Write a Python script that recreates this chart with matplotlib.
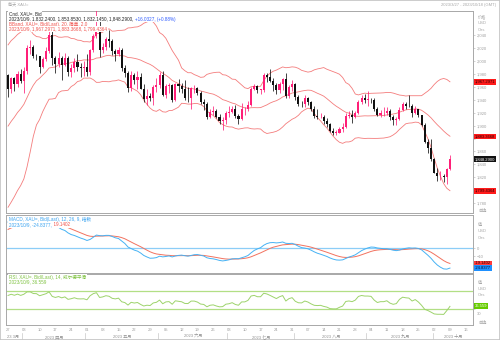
import numpy as np
import pandas as pd
import matplotlib
matplotlib.use("Agg")
import matplotlib.pyplot as plt
import matplotlib.transforms as mtransforms
from matplotlib.patches import Rectangle
from matplotlib.text import Annotation

plt.rcParams["font.family"] = ["Liberation Sans", "Noto Sans CJK SC", "DejaVu Sans"]

# ---------------- data: XAU= daily, bid ----------------
# closes before the displayed window (used to warm up the indicators)
history_close = [
    1827, 1839, 1855, 1833, 1865, 1872, 1877, 1876, 1898, 1920, 1916, 1909, 1904, 1932, 1926,
    1931, 1937, 1946, 1930, 1929, 1923, 1928,
    1951, 1912, 1865, 1867, 1873, 1875, 1861, 1865, 1853, 1854, 1836, 1836, 1842, 1841, 1835,
    1825, 1822, 1811, 1817, 1827,
    1836, 1835, 1855, 1847, 1813, 1814, 1831, 1868, 1913, 1904, 1918, 1919, 1989, 1979, 1940,
    1970, 1993, 1978,
]
history_start = "2023-01-02"

# displayed window 2023-03-27 .. 2023-10-09
window_start = "2023-03-27"
window_end = "2023-10-09"
axis_end = "2023-10-16"

opens = [
    1978, 1956, 1973, 1964, 1980,
    1969, 1984, 2020, 2021, 2008, 2007, 1991, 2003, 2015, 2040, 2004, 1995, 2005, 1994, 2004,
    1983, 1989, 1998, 1990, 1989,
    1990, 1983, 2017, 2039, 2050, 2016, 2022, 2034, 2030, 2015, 2011, 2017, 1989, 1982, 1958,
    1978, 1971, 1975, 1957, 1941, 1946, 1943, 1959,
    1963, 1978, 1948, 1961, 1963, 1940, 1965, 1961, 1957, 1943, 1942, 1958, 1958, 1951, 1936,
    1933, 1913, 1921, 1923, 1914, 1907, 1908,
    1919, 1921, 1926, 1915, 1910, 1925, 1925, 1932, 1957, 1961, 1955, 1955, 1978, 1975, 1969,
    1962, 1955, 1965, 1972, 1945, 1959,
    1965, 1944, 1934, 1933, 1943, 1937, 1925, 1915, 1913, 1914, 1907, 1902, 1891, 1889, 1889,
    1894, 1898, 1915, 1917, 1914, 1920, 1937, 1942,
    1940, 1940, 1939, 1926, 1916, 1919, 1919, 1922, 1913, 1908, 1910, 1924, 1933, 1931, 1930,
    1920, 1925, 1916, 1901, 1875, 1865,
    1849, 1827, 1822, 1822, 1820, 1832.24,
]
highs = [
    1980, 1975, 1975, 1984, 1987,
    1990, 2025, 2032, 2024, 2010, 2008, 2006, 2022, 2048, 2047, 2007, 2014, 2008, 2012, 2007,
    1995, 2005, 2010, 1996, 1999,
    2010, 2019, 2042, 2081, 2062, 2027, 2037, 2048, 2033, 2019, 2022, 2020, 1993, 1985, 1984,
    1982, 1985, 1982, 1965, 1957, 1950, 1962, 1974,
    1983, 1985, 1964, 1966, 1965, 1966, 1972, 1966, 1971, 1959, 1959, 1963, 1959, 1953, 1941,
    1936, 1926, 1930, 1925, 1918, 1914, 1923,
    1930, 1931, 1932, 1918, 1935, 1929, 1938, 1959, 1964, 1963, 1957, 1982, 1982, 1987, 1973,
    1966, 1967, 1973, 1982, 1962, 1970,
    1966, 1947, 1938, 1947, 1944, 1938, 1931, 1925, 1920, 1916, 1911, 1904, 1896, 1893, 1898,
    1904, 1919, 1922, 1924, 1923, 1939, 1948, 1949,
    1953, 1943, 1942, 1929, 1924, 1929, 1929, 1926, 1916, 1914, 1928, 1937, 1936, 1947, 1933,
    1930, 1926, 1917, 1904, 1880, 1879,
    1850, 1834, 1830, 1825, 1834, 1853.853,
]
lows = [
    1944, 1950, 1953, 1959, 1966,
    1950, 1980, 2010, 2004, 2001, 1981, 1989, 1999, 2012, 1994, 1981, 1991, 1970, 1992, 1976,
    1975, 1983, 1985, 1975, 1976,
    1977, 1978, 2014, 2035, 2006, 2012, 2016, 2021, 2009, 2000, 2008, 1985, 1975, 1952, 1953,
    1964, 1956, 1956, 1937, 1932, 1938, 1932, 1952,
    1958, 1946, 1942, 1950, 1937, 1938, 1952, 1950, 1940, 1936, 1925, 1950, 1947, 1933, 1924,
    1910, 1911, 1917, 1911, 1903, 1893, 1903,
    1913, 1919, 1912, 1903, 1909, 1916, 1923, 1930, 1955, 1950, 1949, 1952, 1968, 1967, 1954,
    1949, 1951, 1955, 1942, 1943, 1953,
    1940, 1930, 1928, 1928, 1932, 1922, 1912, 1910, 1911, 1903, 1898, 1890, 1885, 1885, 1888,
    1890, 1896, 1911, 1904, 1911, 1918, 1933, 1935,
    1930, 1935, 1923, 1915, 1913, 1915, 1917, 1908, 1901, 1901, 1909, 1922, 1925, 1929, 1913,
    1918, 1913, 1899, 1873, 1858, 1846,
    1827, 1815, 1816, 1813, 1810, 1832.145,
]
closes = [
    1956, 1973, 1964, 1980, 1969,
    1984, 2020, 2021, 2008, 2007, 1991, 2003, 2015, 2040, 2004, 1995, 2005, 1994, 2004, 1983,
    1989, 1998, 1990, 1989, 1990,
    1983, 2017, 2039, 2050, 2016, 2022, 2034, 2030, 2015, 2011, 2017, 1989, 1982, 1958, 1978,
    1971, 1975, 1957, 1941, 1946, 1943, 1959, 1963,
    1978, 1948, 1961, 1963, 1940, 1965, 1961, 1957, 1943, 1942, 1958, 1958, 1951, 1936, 1933,
    1913, 1921, 1923, 1914, 1907, 1908, 1919,
    1921, 1926, 1915, 1910, 1925, 1925, 1932, 1957, 1961, 1955, 1955, 1978, 1975, 1969, 1962,
    1955, 1965, 1972, 1945, 1959, 1965,
    1944, 1934, 1933, 1943, 1937, 1925, 1915, 1913, 1914, 1907, 1902, 1891, 1889, 1889, 1894,
    1898, 1915, 1917, 1914, 1920, 1937, 1942, 1940,
    1940, 1939, 1926, 1916, 1919, 1919, 1922, 1913, 1908, 1910, 1924, 1933, 1931, 1930, 1920,
    1925, 1916, 1901, 1875, 1865, 1849,
    1827, 1822, 1822, 1820, 1832.26, 1848.29,
]

# last-bar read-outs shown on the chart
last_date = "2023/10/9"
bb_last = (1967.2971, 1883.3668, 1799.4364)
macd_last = (-24.8377, -19.1402)
rsi_last = 36.559
price_ticks = [2040, 2020, 2000, 1980, 1960, 1940, 1920, 1900, 1880, 1860, 1840, 1820, 1800, 1780]
month_names = ["3月", "四月", "五月", "六月", "七月", "八月", "九月", "十月"]

# ---------------- indicators ----------------
dates_all = pd.bdate_range(history_start, window_end)
close_all = pd.Series(history_close + closes, index=dates_all, dtype=float)
n_hist = len(history_close)

bb_mid = close_all.rolling(20).mean()
bb_sd = close_all.rolling(20).std(ddof=0)
bb_up = bb_mid + 2.0 * bb_sd
bb_lo = bb_mid - 2.0 * bb_sd

ema12 = close_all.ewm(span=12, adjust=False).mean()
ema26 = close_all.ewm(span=26, adjust=False).mean()
macd = ema12 - ema26
signal = macd.ewm(span=9, adjust=False).mean()

delta = close_all.diff()
gain = delta.clip(lower=0).ewm(alpha=1 / 14, adjust=False).mean()
loss = (-delta.clip(upper=0)).ewm(alpha=1 / 14, adjust=False).mean()
rsi = 100 - 100 / (1 + gain / loss)

vis = slice(n_hist, None)
x = np.arange(len(closes))

# ---------------- figure ----------------
W, H = 500, 340
fig = plt.figure(figsize=(W / 100, H / 100), dpi=100)
fig.patch.set_facecolor("white")


def fx(px):
    return px / W


def fy(py):
    return 1 - py / H


def panel(top_px, bottom_px):
    a = fig.add_axes([fx(6), fy(bottom_px), fx(473) - fx(6), (bottom_px - top_px) / H])
    for s in a.spines.values():
        s.set_color("#a8a8a8")
        s.set_linewidth(0.7)
    a.set_xlim(-0.65, 147.3)
    a.yaxis.tick_right()
    a.tick_params(axis="y", length=1.5, width=0.4, color="#b0b0b0", pad=1.2,
                  labelsize=3.0, labelcolor="#a0a0a0")
    a.tick_params(axis="x", bottom=False, labelbottom=False)
    return a


SMALL = 3.3
UP, DOWN = "#ff1f78", "#111111"

# ---- price panel ----
ax = panel(11, 213)
ax.set_ylim(1765, 2077)
ax.set_yticks(price_ticks)
tag_values = list(bb_last) + [closes[-1]]
# tick labels that sit under a value tag are left blank
ax.set_yticklabels(["" if min(abs(v - t) for t in tag_values) < 7 else f"{v:,}"
                    for v in price_ticks])

o = np.array(opens); h = np.array(highs); l = np.array(lows); c = np.array(closes)
up = c >= o
cols = np.where(up, UP, DOWN)
ax.vlines(x, l, h, colors=cols, lw=0.55, zorder=3)
ax.bar(x, np.maximum(np.abs(c - o), 0.8), bottom=np.minimum(o, c), width=0.66,
       color=cols, linewidth=0, zorder=4)

bb_col = "#f47c7c"
for s in (bb_up, bb_mid, bb_lo):
    ax.plot(x, s.values[vis], color=bb_col, lw=0.6, zorder=2)

# ---- MACD panel ----
axm = panel(215, 273)
axm.set_ylim(-31, 41)
axm.set_yticks([0, -10])
axm.axhline(0, color="#8ccdf7", lw=0.9, zorder=1)
axm.plot(x, signal.values[vis], color="#f2725f", lw=0.7, zorder=2)
axm.plot(x, macd.values[vis], color="#46b2f4", lw=0.7, zorder=3)

# ---- RSI panel ----
axr = panel(274, 325)
axr.set_ylim(-3.8, 106)
axr.set_yticks([30])
# the "30" caption is nudged below the RSI value tag
for lab in axr.get_yticklabels():
    lab.set_transform(lab.get_transform() +
                      mtransforms.ScaledTranslation(0, -4.5 / 100, fig.dpi_scale_trans))
for lev in (70, 30):
    axr.axhline(lev, color="#b2df85", lw=0.9, zorder=1)
axr.plot(x, rsi.values[vis], color="#9dd36b", lw=0.7, zorder=2)

# x axis: Mondays and month bands
axis_days = pd.bdate_range(window_start, axis_end)
mondays = [i for i, d in enumerate(axis_days) if d.weekday() == 0]
axr.set_xticks(mondays)
axr.set_xticklabels([f"{axis_days[i].day:02d}" for i in mondays])
axr.tick_params(axis="x", bottom=True, labelbottom=True, length=0, pad=2.2,
                labelsize=3.0, labelcolor="#a0a0a0")

trans = mtransforms.blended_transform_factory(axr.transData, fig.transFigure)
month_start = [0] + [i for i in range(1, len(axis_days))
                     if axis_days[i].month != axis_days[i - 1].month]
bounds = month_start + [147.3]
for k, i0 in enumerate(month_start):
    if k == 0:
        fig.text(fx(7), fy(337), "23 3月", fontsize=3.0, color="#909090",
                 ha="left", va="center")
    else:
        fig.lines.append(plt.Line2D([i0 - 0.5, i0 - 0.5], [fy(333), fy(340)],
                                    transform=trans, color="#c8c8c8", lw=0.5))
        mid = (i0 - 0.5 + bounds[k + 1]) / 2
        fig.text(mid, fy(337), f"2023 {month_names[k]}", transform=trans,
                 fontsize=3.0, color="#909090", ha="center", va="center")

# ---------------- texts ----------------
fig.text(fx(8), fy(5), "每天 XAU=", fontsize=3.0, color="#a8a8a8", va="center")
fig.text(fx(496), fy(5), "2023/3/27 - 2023/10/18 (GMT)", fontsize=3.0, color="#a8a8a8",
         va="center", ha="right")

box = dict(facecolor="white", edgecolor="none", pad=0.4)


def row(px, py, parts):
    """One legend row; later parts continue right after the previous one."""
    prev = fig.text(fx(px), fy(py), parts[0][0], fontsize=SMALL, color=parts[0][1],
                    va="center", ha="left", bbox=box, zorder=5)
    for txt, col in parts[1:]:
        nxt = Annotation(txt, xy=(1, fy(py)), xycoords=(prev, "figure fraction"),
                         fontsize=SMALL, color=col, va="center", ha="left", bbox=box,
                         annotation_clip=False)
        nxt.set_zorder(5)
        fig.add_artist(nxt)
        prev = nxt


row(9, 14, [("Cnd, XAU=, Bid", "#222222")])
row(9, 19, [("2023/10/9, 1,832.2400, 1,853.8530, 1,832.1450, 1,848.2900, ", "#222222"),
            ("+16.0327, (+0.88%)", "#2f5cff")])
row(9, 24, [("BBand, XAU=, Bid(Last), 20, 简单, 2.0", "#f0504a")])
row(9, 29, [(f"{last_date}, 1,967.2971, 1,883.3668, 1,799.4364", "#f0504a")])

row(9, 219, [("MACD, XAU=, Bid(Last), 12, 26, 9, 指数", "#3aa3f0")])
row(9, 225, [(f"{last_date}, -24.8377, ", "#3aa3f0"), ("-19.1402", "#f0504a")])

row(9, 277, [("RSI, XAU=, Bid(Last), 14, 威尔德平滑", "#7fc241")])
row(9, 282, [(f"{last_date}, 36.559", "#7fc241")])


# right-hand captions
def side(py, txt):
    fig.text(fx(478), fy(py), txt, fontsize=3.0, color="#a8a8a8", va="center", ha="left")


for py, txt in [(17, "价格"), (23.5, "USD"), (30, "Ozs"), (211, "自选"),
                (225, "值"), (231.5, "USD"), (238, "Ozs"),
                (283, "值"), (289, "USD"), (295, "Ozs"), (323, "自选")]:
    side(py, txt)


# value tags on the right edge
def tag(a, val, txt, bg, fg):
    tr = mtransforms.blended_transform_factory(a.transAxes, a.transData)
    a.text(1.004, val, txt, transform=tr, fontsize=3.0, color=fg, va="center", ha="left",
           bbox=dict(facecolor=bg, edgecolor="none", pad=0.6), clip_on=False, zorder=10)


tag(ax, bb_last[0], "1,967.2971", "#ff1a1a", "#2a0000")
tag(ax, bb_last[1], "1,883.3668", "#ff1a1a", "#2a0000")
tag(ax, closes[-1], "1,848.2900", "#111111", "#ffffff")
tag(ax, bb_last[2], "1,799.4364", "#ff1a1a", "#2a0000")
tag(axm, macd_last[1], "-19.1402", "#ff3b3b", "#2a0000")
tag(axm, macd_last[0], "-24.8377", "#1e90ff", "#001030")
tag(axr, rsi_last, "36.559", "#66cc00", "#ffffff")

# outer frame
fig.patches.append(Rectangle((0, 0), 1, 1, transform=fig.transFigure, fill=False,
                             edgecolor="#c4c4c4", lw=1.2))

fig.savefig("out.png", dpi=100)
